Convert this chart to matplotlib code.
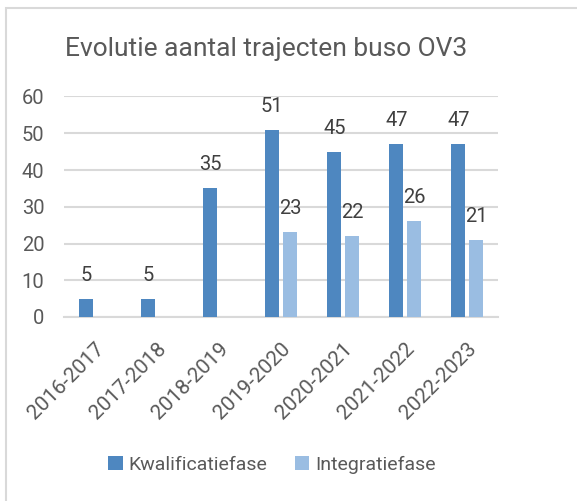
import matplotlib.pyplot as plt
import numpy as np
from matplotlib.patches import Rectangle

# datos
jaren = ['2016-2017', '2017-2018', '2018-2019', '2019-2020', '2020-2021', '2021-2022', '2022-2023']
kwalificatie = [5, 5, 35, 51, 45, 47, 47]
integratie = [np.nan, np.nan, np.nan, 23, 22, 26, 21]

donker = '#4E87C0'
licht = '#9ABDE2'
grijs = '#595959'

plt.rcParams['font.family'] = ['Roboto', 'DejaVu Sans']

fig = plt.figure(figsize=(5.77, 5.01), dpi=100)
fig.patches.append(Rectangle((6 / 577, -0.1), 1.2, (501 - 8) / 501 + 0.1, transform=fig.transFigure,
                             fill=False, edgecolor='#D9D9D9', linewidth=1.5))
ax = fig.add_axes([64 / 577, 1 - 317 / 501, 434 / 577, (317 - 96.5) / 501])

x = np.arange(len(jaren))
w = 0.225
b1 = ax.bar(x - 0.14, kwalificatie, w, color=donker, label='Kwalificatiefase', zorder=3)
b2 = ax.bar(x + 0.145, integratie, w, color=licht, label='Integratiefase', zorder=3)

for bars, vals in ((b1, kwalificatie), (b2, integratie)):
    for r, v in zip(bars, vals):
        if np.isnan(v):
            continue
        ax.annotate(str(int(v)), (r.get_x() + r.get_width() / 2, v), xytext=(0, 13),
                    textcoords='offset points', ha='center', va='baseline',
                    fontsize=14.5, color='#404040')

ax.set_xlim(-0.5, len(jaren) - 0.5)
ax.set_ylim(0, 60)
ax.set_yticks(range(0, 61, 10))
ax.grid(axis='y', color='#D9D9D9', linewidth=1.5, zorder=0)
for s in ['top', 'right', 'left']:
    ax.spines[s].set_visible(False)
ax.spines['bottom'].set_color('#D9D9D9')
ax.spines['bottom'].set_linewidth(1.5)
ax.tick_params(length=0, labelsize=14.5, labelcolor=grijs)
ax.tick_params(axis='y', pad=14)
ax.set_xticks(x)
ax.set_xticklabels(jaren, rotation=45, ha='right', rotation_mode='anchor', fontsize=15)
ax.tick_params(axis='x', pad=16)

fig.text(266 / 577, 1 - 49 / 501, 'Evolutie aantal trajecten buso OV3', ha='center', va='center',
         fontsize=19, color=grijs)

fig.legend(loc='center', bbox_to_anchor=(272 / 577, 1 - 465 / 501), ncol=2, frameon=False,
           fontsize=14, labelcolor=grijs, handlelength=0.75, handleheight=0.75,
           handletextpad=0.3, columnspacing=1.4)

fig.savefig('out.png', dpi=100)
